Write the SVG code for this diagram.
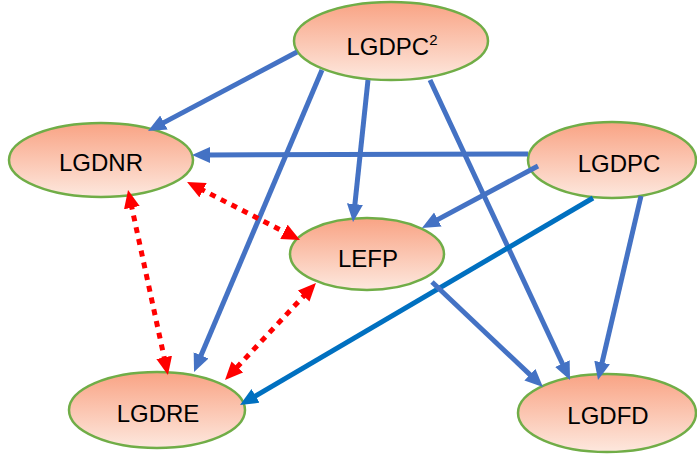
<svg xmlns="http://www.w3.org/2000/svg" width="697" height="454" viewBox="0 0 697 454">
<style>
.node ellipse{fill:url(#g);stroke:#70AD47;stroke-width:2.5}
.node text{font-family:"Liberation Sans",Arial,sans-serif;font-size:24px;fill:#000;text-anchor:middle}
.blue{stroke:#4472C4;stroke-width:5;fill:none;marker-end:url(#ab)}
.dark{stroke:#0070C0;stroke-width:5;fill:none;marker-end:url(#ad)}
.red{stroke:#FF0000;stroke-width:5;fill:none;stroke-dasharray:6 6;marker-start:url(#ar);marker-end:url(#ar)}
</style>
<defs>
<linearGradient id="g" x1="0" y1="0" x2="0" y2="1">
<stop offset="0" stop-color="#F9A384"/>
<stop offset="1" stop-color="#FDE8DE"/>
</linearGradient>
<marker id="ab" markerUnits="userSpaceOnUse" markerWidth="20" markerHeight="18" refX="4" refY="8" orient="auto"><path d="M0,0 L18,8 L0,16 z" fill="#4472C4"/></marker>
<marker id="ad" markerUnits="userSpaceOnUse" markerWidth="20" markerHeight="18" refX="4" refY="8" orient="auto"><path d="M0,0 L18,8 L0,16 z" fill="#0070C0"/></marker>
<marker id="ar" markerUnits="userSpaceOnUse" markerWidth="20" markerHeight="18" refX="4" refY="8" orient="auto-start-reverse"><path d="M0,0 L18,8 L0,16 z" fill="#FF0000"/></marker>
</defs>
<g id="n-lgdpc2" class="node"><ellipse cx="391" cy="41" rx="97" ry="39"/><text x="392" y="55">LGDPC<tspan font-size="15" dy="-10">2</tspan></text></g>
<g id="n-lgdnr" class="node"><ellipse cx="101" cy="160" rx="92" ry="37"/><text x="101" y="171">LGDNR</text></g>
<g id="n-lgdpc" class="node"><ellipse cx="612" cy="160" rx="84" ry="38"/><text x="619" y="172">LGDPC</text></g>
<g id="n-lefp" class="node"><ellipse cx="367" cy="254" rx="77" ry="36"/><text x="368" y="267">LEFP</text></g>
<g id="n-lgdre" class="node"><ellipse cx="157" cy="410" rx="88" ry="38"/><text x="158" y="422">LGDRE</text></g>
<g id="n-lgdfd" class="node"><ellipse cx="607" cy="413" rx="89" ry="39"/><text x="608" y="424">LGDFD</text></g>
<g id="connectors">
<line class="blue" x1="297" y1="52" x2="160.4" y2="124.4"/>
<line class="blue" x1="528" y1="154" x2="206" y2="155"/>
<line class="blue" x1="322" y1="70" x2="199.5" y2="359.1"/>
<line class="blue" x1="368" y1="80" x2="354.5" y2="208.1"/>
<line class="blue" x1="430" y1="80" x2="564.1" y2="367.3"/>
<line class="blue" x1="538" y1="166" x2="434.3" y2="221.4"/>
<line class="dark" x1="593" y1="198" x2="252.1" y2="397.9"/>
<line class="blue" x1="641" y1="196" x2="601.2" y2="366.4"/>
<line class="blue" x1="432" y1="282" x2="532.8" y2="377.4"/>
<line class="red" x1="199.5" y1="188.4" x2="287.5" y2="233.6"/>
<line class="red" x1="131" y1="203.7" x2="165" y2="361.3"/>
<line class="red" x1="306.4" y1="293.2" x2="234.6" y2="369.8"/>
</g>
</svg>
